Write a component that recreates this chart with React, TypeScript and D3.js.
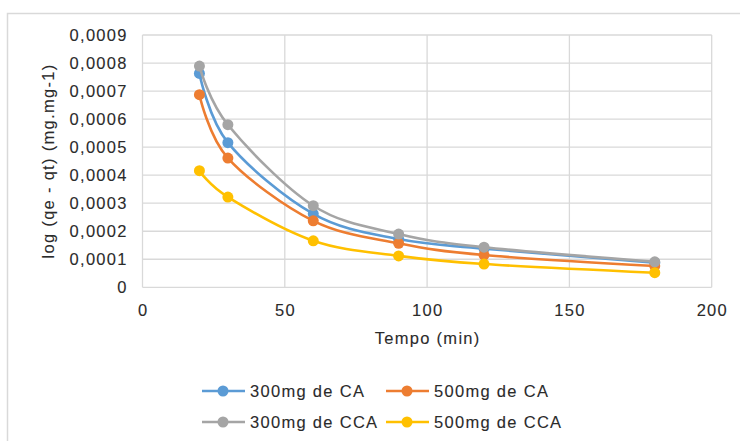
import React from "react";
import * as d3 from "d3";

const tempo = [20, 30, 60, 90, 120, 180];
const ca300 = [0.000763, 0.000516, 0.000262, 0.000172, 0.000138, 0.000088];
const ca500 = [0.000687, 0.000461, 0.000237, 0.000157, 0.000115, 0.000076];
const cca300 = [0.000789, 0.00058, 0.000291, 0.00019, 0.000143, 0.000091];
const cca500 = [0.000416, 0.000322, 0.000166, 0.000112, 0.000083, 0.000052];
const seriesNames = ["300mg de CA", "500mg de CA", "300mg de CCA", "500mg de CCA"];
const seriesColors = ["#5B9BD5", "#ED7D31", "#A5A5A5", "#FFC000"];
const xTicks = [0, 50, 100, 150, 200];
const yTicks = [0, 0.0001, 0.0002, 0.0003, 0.0004, 0.0005, 0.0006, 0.0007, 0.0008, 0.0009];

const W = 740;
const H = 441;
const FONT = "'Liberation Sans', Arial, sans-serif";
const FS = 16.5;
const LS = 1.3;

export default function App() {
  const x = d3.scaleLinear().domain([0, 200]).range([142.5, 711.7]);
  const y = d3.scaleLinear().domain([0, 0.0009]).range([287.3, 35]);
  const series = [ca300, ca500, cca300, cca500];
  const line = d3
    .line<[number, number]>()
    .x((d) => x(d[0]))
    .y((d) => y(d[1]))
    .curve(d3.curveCardinal.tension(0));
  const fmtY = (v: number) => (v === 0 ? "0" : v.toFixed(4).replace(".", ","));
  const legendPos = [
    { lx: 202, ly: 391 },
    { lx: 386, ly: 391 },
    { lx: 202, ly: 422 },
    { lx: 386, ly: 422 },
  ];
  const textStyle = {
    fontFamily: FONT,
    fontSize: FS,
    letterSpacing: LS,
    fill: "#2b2b2b",
    stroke: "#2b2b2b",
    strokeWidth: 0.1,
  } as any;
  return (
    <svg
      width={W}
      height={H}
      style={{ position: "absolute", left: 0, top: 0, display: "block", background: "#fff" }}
    >
      <rect x={7.5} y={13.5} width={800} height={500} fill="#fff" stroke="#d9d9d9" strokeWidth={1.5} />
      {yTicks.map((t) => (
        <line key={"gy" + t} x1={x(0)} x2={x(200)} y1={y(t)} y2={y(t)} stroke="#d9d9d9" strokeWidth={1.3} />
      ))}
      {xTicks.map((t) => (
        <line key={"gx" + t} x1={x(t)} x2={x(t)} y1={y(0)} y2={y(0.0009)} stroke="#d9d9d9" strokeWidth={1.3} />
      ))}
      {yTicks.map((t) => (
        <text
          key={"ty" + t}
          x={x(0) - 16 + LS}
          y={y(t)}
          textAnchor="end"
          dominantBaseline="central"
          style={textStyle}
        >
          {fmtY(t)}
        </text>
      ))}
      {xTicks.map((t) => (
        <text
          key={"tx" + t}
          x={x(t) + LS / 2}
          y={309.5}
          textAnchor="middle"
          dominantBaseline="central"
          style={textStyle}
        >
          {t}
        </text>
      ))}
      <text x={427 + LS / 2} y={338} textAnchor="middle" dominantBaseline="central" style={textStyle}>
        Tempo (min)
      </text>
      <text
        transform={`translate(48,161) rotate(-90)`}
        textAnchor="middle"
        dominantBaseline="central"
        style={textStyle}
      >
        log (qe - qt) (mg.mg-1)
      </text>
      {series.map((vals, i) => {
        const pts: [number, number][] = tempo.map((t, j) => [t, vals[j]]);
        return (
          <g key={"s" + i}>
            <path d={line(pts) || ""} fill="none" stroke={seriesColors[i]} strokeWidth={2.6} />
            {pts.map((p, j) => (
              <circle key={j} cx={x(p[0])} cy={y(p[1])} r={5.5} fill={seriesColors[i]} />
            ))}
          </g>
        );
      })}
      {seriesNames.map((n, i) => {
        const { lx, ly } = legendPos[i];
        return (
          <g key={"l" + i}>
            <line x1={lx} x2={lx + 43} y1={ly} y2={ly} stroke={seriesColors[i]} strokeWidth={2.6} />
            <circle cx={lx + 21} cy={ly} r={5.5} fill={seriesColors[i]} />
            <text x={lx + 48} y={ly} dominantBaseline="central" style={textStyle}>
              {n}
            </text>
          </g>
        );
      })}
    </svg>
  );
}
